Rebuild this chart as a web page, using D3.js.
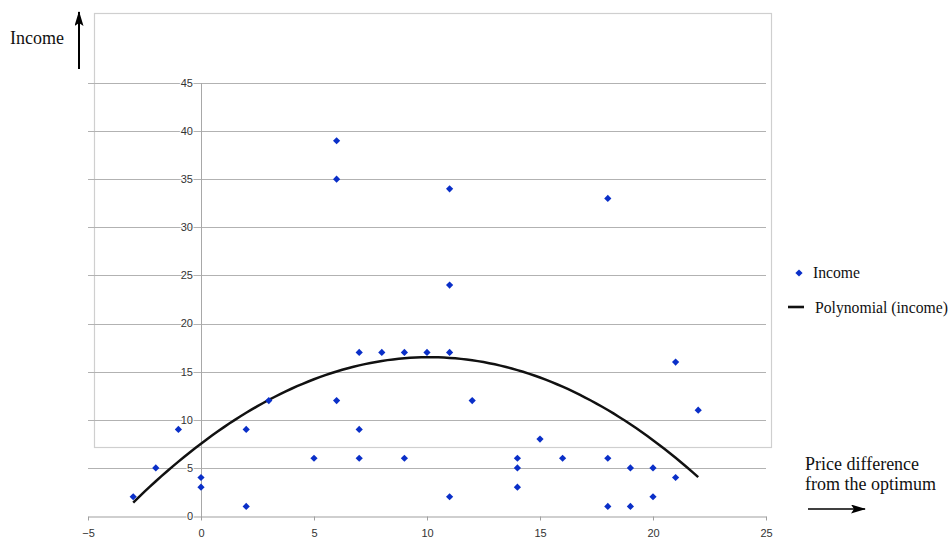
<!DOCTYPE html>
<html>
<head>
<meta charset="utf-8">
<script src="https://cdn.jsdelivr.net/npm/d3@7"></script>
<style>
  html, body { margin: 0; padding: 0; background: #fff; }
  svg { display: block; }
</style>
</head>
<body>
<svg id="chart" width="948" height="539"></svg>
<script>
// Observations: price difference from the optimum vs. income
const priceDiff = [-3, -2, -1, 0, 0, 2, 2, 3, 5, 6, 6, 6, 7, 7, 7, 8, 9, 9, 10, 11, 11, 11, 11, 12, 14, 14, 14, 15, 16, 18, 18, 18, 19, 19, 20, 20, 21, 21, 22];
const income    = [ 2,  5,  9, 4, 3, 9, 1, 12, 6, 39, 35, 12, 17, 9, 6, 17, 17, 6, 17, 34, 24, 17, 2, 12, 6, 5, 3, 8, 6, 33, 6, 1, 5, 1, 5, 2, 16, 4, 11];

// Second-order polynomial trend line (income): c0 + c1*x + c2*x^2
const trendCoef = [7.52, 1.778, -0.088];
const trendRange = [-3, 22];

const xTicks = [-5, 0, 5, 10, 15, 20, 25];
const yTicks = [0, 5, 10, 15, 20, 25, 30, 35, 40, 45];

const legendLabels = ["Income", "Polynomial (income)"];
const yTitle = "Income";
const xTitle = ["Price difference", "from the optimum"];

const serif = "'Liberation Serif', 'Times New Roman', serif";
const sans = "'Liberation Sans', Arial, sans-serif";

const svg = d3.select("#chart");

const x = d3.scaleLinear().domain([-5, 25]).range([88, 766]);
const y = d3.scaleLinear().domain([0, 45]).range([516, 83]);

// outer chart frame
svg.append("rect")
  .attr("x", 94.5).attr("y", 13.5)
  .attr("width", 677).attr("height", 434)
  .attr("fill", "none")
  .attr("stroke", "#cfcfcf")
  .attr("stroke-width", 1.2);

// horizontal gridlines
svg.append("g")
  .selectAll("line")
  .data(yTicks.filter(d => d > 0))
  .join("line")
  .attr("x1", x(-5)).attr("x2", x(25))
  .attr("y1", d => Math.round(y(d)) + 0.5)
  .attr("y2", d => Math.round(y(d)) + 0.5)
  .attr("stroke", "#b2b2b2")
  .attr("stroke-width", 1.2);

// y axis line at x = 0
svg.append("line")
  .attr("x1", Math.round(x(0)) + 0.5).attr("x2", Math.round(x(0)) + 0.5)
  .attr("y1", y(45)).attr("y2", y(0) + 4)
  .attr("stroke", "#a8a8a8")
  .attr("stroke-width", 1);

// x axis
const xAxis = svg.append("g")
  .attr("transform", `translate(0,${Math.round(y(0)) + 0.5})`)
  .call(d3.axisBottom(x).tickValues(xTicks).tickSize(4).tickSizeOuter(0).tickPadding(9));
xAxis.select(".domain").attr("stroke", "#a0a0a0").attr("stroke-width", 1.2);
xAxis.selectAll(".tick line").attr("stroke", "#a0a0a0");
xAxis.selectAll(".tick text")
  .attr("fill", "#333")
  .attr("font-family", sans)
  .attr("font-size", 11);

// y tick labels
svg.append("g")
  .selectAll("text")
  .data(yTicks)
  .join("text")
  .attr("x", 193)
  .attr("y", d => y(d))
  .attr("dy", "0.35em")
  .attr("text-anchor", "end")
  .attr("font-family", sans)
  .attr("font-size", 11)
  .attr("fill", "#333")
  .attr("stroke", "#fff")
  .attr("stroke-width", 2)
  .attr("paint-order", "stroke")
  .text(d => d);

// trend line
const trendX = d3.range(trendRange[0], trendRange[1] + 0.001, 0.25);
const poly = v => trendCoef[0] + trendCoef[1] * v + trendCoef[2] * v * v;
svg.append("path")
  .datum(trendX)
  .attr("fill", "none")
  .attr("stroke", "#111")
  .attr("stroke-width", 2.5)
  .attr("d", d3.line().x(d => x(d)).y(d => y(poly(d))));

// data markers (diamonds)
const diamond = d3.symbol().type(d3.symbolSquare).size(26);
svg.append("g")
  .selectAll("path")
  .data(priceDiff.map((d, i) => [d, income[i]]))
  .join("path")
  .attr("d", diamond)
  .attr("transform", d => `translate(${x(d[0])},${y(d[1])}) rotate(45)`)
  .attr("fill", "#0a2fc8");

// legend
const lg = svg.append("g").attr("font-family", serif).attr("font-size", 15.7).attr("fill", "#111");
lg.append("path")
  .attr("d", diamond)
  .attr("transform", "translate(799,273) rotate(45)")
  .attr("fill", "#0a2fc8");
lg.append("text").attr("x", 813).attr("y", 278).text(legendLabels[0]);
lg.append("line")
  .attr("x1", 788).attr("x2", 804)
  .attr("y1", 307).attr("y2", 307)
  .attr("stroke", "#111").attr("stroke-width", 2.6);
lg.append("text").attr("x", 815).attr("y", 313).text(legendLabels[1]);

// arrow head
svg.append("defs").append("marker")
  .attr("id", "arrow")
  .attr("viewBox", "0 0 15 9")
  .attr("refX", 14).attr("refY", 4.5)
  .attr("markerWidth", 15).attr("markerHeight", 9)
  .attr("markerUnits", "userSpaceOnUse")
  .attr("orient", "auto")
  .append("path")
  .attr("d", "M0,0 L15,4.5 L0,9 L3,4.5 Z")
  .attr("fill", "#000");

// y title with upward arrow
svg.append("text")
  .attr("x", 10).attr("y", 44)
  .attr("font-family", serif)
  .attr("font-size", 18)
  .attr("fill", "#111")
  .text(yTitle);
svg.append("line")
  .attr("x1", 79).attr("x2", 79)
  .attr("y1", 69).attr("y2", 12)
  .attr("stroke", "#000").attr("stroke-width", 2)
  .attr("marker-end", "url(#arrow)");

// x title with rightward arrow
svg.append("text")
  .attr("font-family", serif)
  .attr("font-size", 18)
  .attr("fill", "#111")
  .selectAll("tspan")
  .data(xTitle)
  .join("tspan")
  .attr("x", 805)
  .attr("y", (d, i) => 470 + i * 20)
  .text(d => d);
svg.append("line")
  .attr("x1", 808).attr("x2", 865)
  .attr("y1", 509).attr("y2", 509)
  .attr("stroke", "#000").attr("stroke-width", 1.6)
  .attr("marker-end", "url(#arrow)");
</script>
</body>
</html>
